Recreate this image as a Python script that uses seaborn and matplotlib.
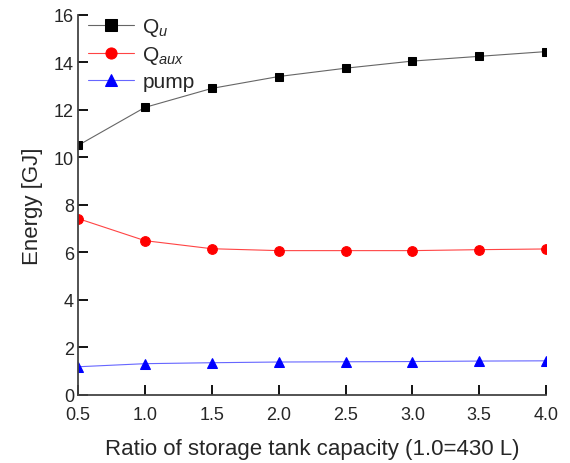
import matplotlib
matplotlib.use("Agg")
import matplotlib.pyplot as plt
import seaborn as sns
import pandas as pd

ratio = [0.5, 1.0, 1.5, 2.0, 2.5, 3.0, 3.5, 4.0]
q_u = [10.5, 12.1, 12.9, 13.4, 13.75, 14.05, 14.25, 14.45]
q_aux = [7.42, 6.49, 6.15, 6.07, 6.07, 6.07, 6.11, 6.14]
pump = [1.18, 1.31, 1.35, 1.38, 1.39, 1.40, 1.42, 1.43]
x_ticks = [0.5, 1.0, 1.5, 2.0, 2.5, 3.0, 3.5, 4.0]
y_ticks = [0, 2, 4, 6, 8, 10, 12, 14, 16]

sns.set_theme(style="ticks")
plt.rcParams['font.family'] = ['Liberation Sans', 'DejaVu Sans']
plt.rcParams['mathtext.fontset'] = 'custom'
plt.rcParams['mathtext.rm'] = 'Liberation Sans'
plt.rcParams['mathtext.it'] = 'Liberation Sans:italic'

fig = plt.figure(figsize=(5.7, 4.64), dpi=100)
ax = fig.add_axes([0.137, 0.147, 0.821, 0.819])

df = pd.DataFrame({"ratio": ratio, "qu": q_u, "qaux": q_aux, "pump": pump})

sns.lineplot(data=df, x="ratio", y="qu", ax=ax, color="#666666", lw=0.8,
             marker="s", markersize=6, markerfacecolor="black",
             markeredgecolor="black", label=r"Q$_{u}$")
sns.lineplot(data=df, x="ratio", y="qaux", ax=ax, color="#ff4444", lw=0.8,
             marker="o", markersize=7, markerfacecolor="red",
             markeredgecolor="red", label=r"Q$_{aux}$")
sns.lineplot(data=df, x="ratio", y="pump", ax=ax, color="#6666ff", lw=0.8,
             marker="^", markersize=7, markerfacecolor="blue",
             markeredgecolor="blue", label="pump")

ax.set_xlim(0.5, 4.0)
ax.set_ylim(0, 16)
ax.set_xticks(x_ticks)
ax.set_xticklabels([f"{v:.1f}" for v in x_ticks])
ax.set_yticks(y_ticks)
ax.set_xlabel("Ratio of storage tank capacity (1.0=430 L)", fontsize=16, labelpad=11)
ax.set_ylabel("Energy [GJ]", fontsize=16, labelpad=8)

for s in ["top", "right"]:
    ax.spines[s].set_visible(False)
for s in ["left", "bottom"]:
    ax.spines[s].set_color("#444444")
    ax.spines[s].set_linewidth(1.3)
ax.tick_params(axis="both", which="major", direction="in", length=7, width=1.3,
               color="black", labelsize=13, left=True, bottom=True)
ax.tick_params(axis="x", pad=8)
ax.tick_params(axis="y", pad=3)

leg = ax.legend(loc="upper left", bbox_to_anchor=(-0.005, 1.03), frameon=False,
                fontsize=15, handlelength=2.2, handletextpad=0.4,
                labelspacing=0.3, borderaxespad=0.2)
for h in leg.legend_handles:
    h.set_markersize(8)

fig.savefig("out.png", dpi=100)
